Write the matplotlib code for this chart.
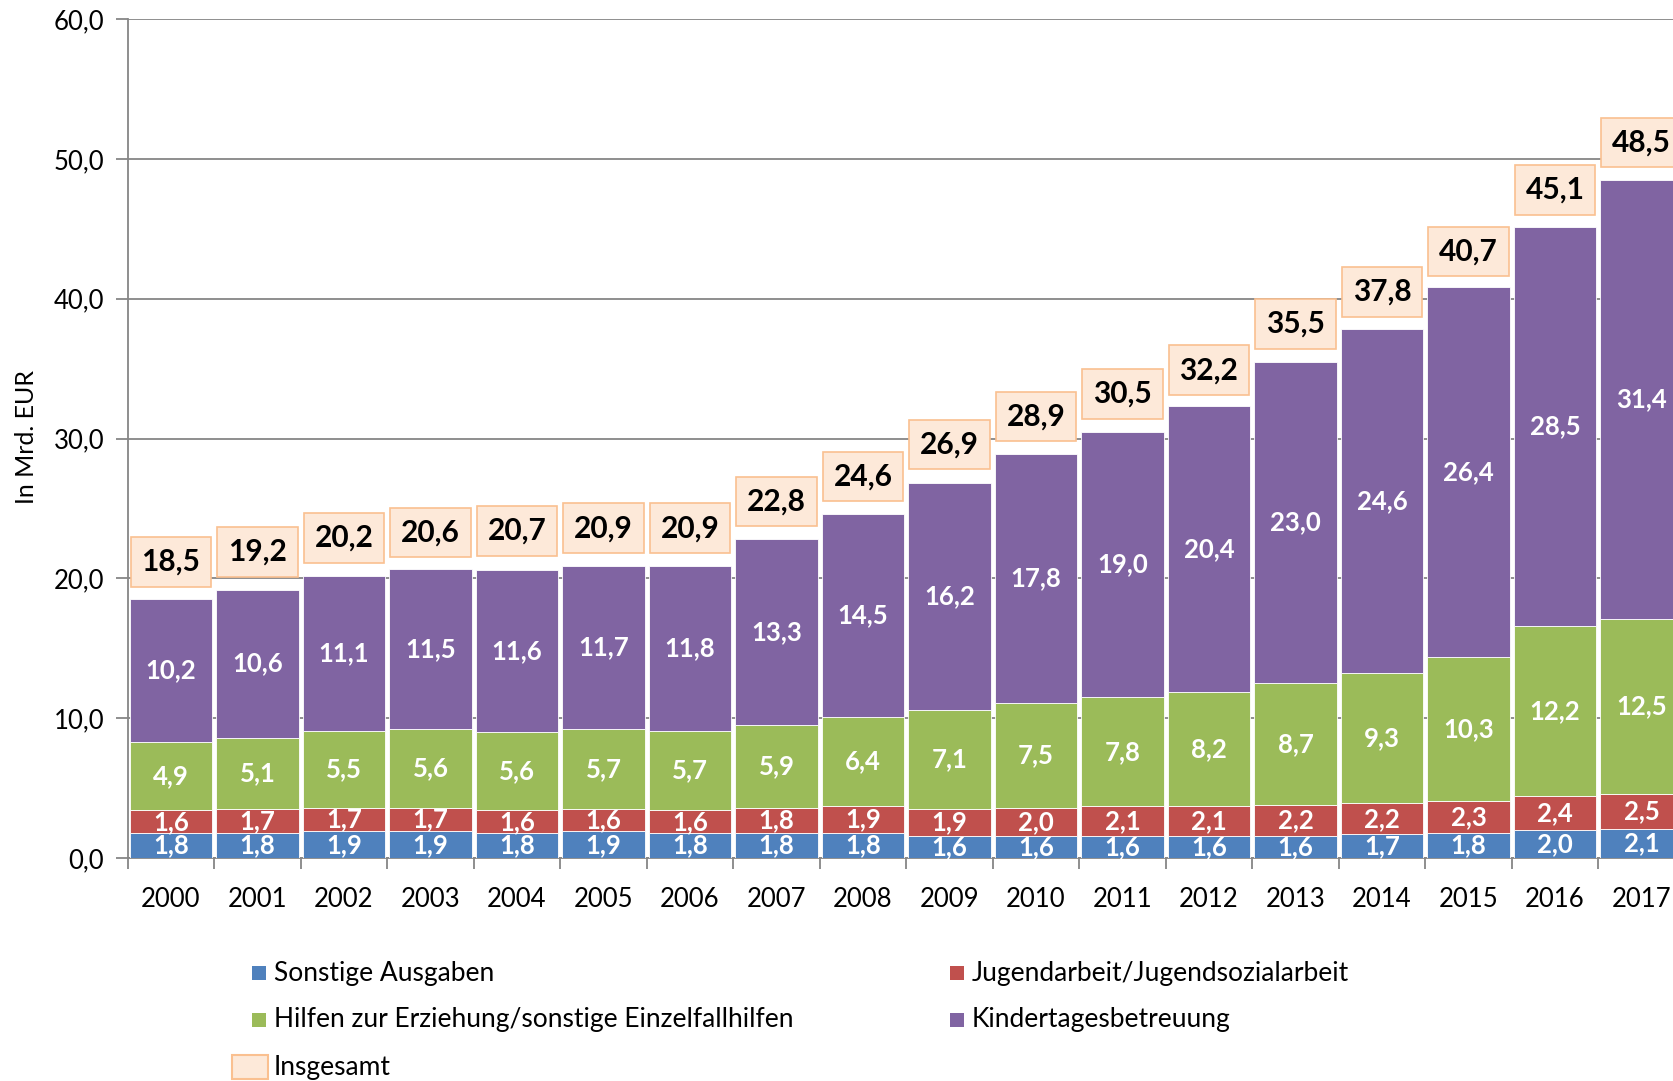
import matplotlib
matplotlib.use("Agg")
import matplotlib.pyplot as plt
from matplotlib.patches import Rectangle
import numpy as np

plt.rcParams['font.family'] = ['Lato', 'DejaVu Sans']

years = ['2000', '2001', '2002', '2003', '2004', '2005', '2006', '2007', '2008',
         '2009', '2010', '2011', '2012', '2013', '2014', '2015', '2016', '2017']
sonstige = [1.8, 1.8, 1.9, 1.9, 1.8, 1.9, 1.8, 1.8, 1.8, 1.6, 1.6, 1.6, 1.6, 1.6, 1.7, 1.8, 2.0, 2.1]
jugend = [1.6, 1.7, 1.7, 1.7, 1.6, 1.6, 1.6, 1.8, 1.9, 1.9, 2.0, 2.1, 2.1, 2.2, 2.2, 2.3, 2.4, 2.5]
hilfen = [4.9, 5.1, 5.5, 5.6, 5.6, 5.7, 5.7, 5.9, 6.4, 7.1, 7.5, 7.8, 8.2, 8.7, 9.3, 10.3, 12.2, 12.5]
kita = [10.2, 10.6, 11.1, 11.5, 11.6, 11.7, 11.8, 13.3, 14.5, 16.2, 17.8, 19.0, 20.4, 23.0, 24.6, 26.4, 28.5, 31.4]
insgesamt = [18.5, 19.2, 20.2, 20.6, 20.7, 20.9, 20.9, 22.8, 24.6, 26.9, 28.9, 30.5, 32.2, 35.5, 37.8, 40.7, 45.1, 48.5]

series_names = ['Sonstige Ausgaben', 'Jugendarbeit/Jugendsozialarbeit',
                'Hilfen zur Erziehung/sonstige Einzelfallhilfen', 'Kindertagesbetreuung']
series = [sonstige, jugend, hilfen, kita]
colors = ['#4F81BD', '#C0504D', '#9BBB59', '#8064A2']
total_name = 'Insgesamt'
total_face = '#FDE9D9'
total_edge = '#FAC090'

W, H = 1673, 1081
fig = plt.figure(figsize=(W / 100, H / 100), dpi=100)
ax_left, ax_right, ax_top, ax_bottom = 127.7, 127.7 + 18 * 86.5, 19, 858
ax = fig.add_axes([ax_left / W, (H - ax_bottom) / H, (ax_right - ax_left) / W, (ax_bottom - ax_top) / H])

def fmt(v):
    return f"{v:.1f}".replace('.', ',')

x = np.arange(len(years))
bottom = np.zeros(len(years))
for vals, col in zip(series, colors):
    vals = np.array(vals)
    ax.bar(x, vals, bottom=bottom, width=0.955, color=col, edgecolor='white', linewidth=0.6, zorder=3)
    for xi, b, v in zip(x, bottom, vals):
        ax.text(xi, b + v / 2, fmt(v), ha='center', va='center', color='white',
                fontsize=18.5, fontweight='bold', zorder=4)
    bottom = bottom + vals

for xi, t in zip(x, insgesamt):
    ax.annotate(fmt(t), xy=(xi, t), xytext=(0, 27), textcoords='offset points',
                ha='center', va='center', fontsize=21.5, fontweight='bold', color='black',
                bbox=dict(boxstyle='square,pad=0.36', fc=total_face, ec=total_edge, lw=1.2),
                zorder=5, annotation_clip=False)

ax.set_xlim(-0.5, len(years) - 0.5)
ax.set_ylim(0, 60)
ax.set_yticks(np.arange(0, 61, 10))
ax.set_yticklabels([fmt(v) for v in np.arange(0, 61, 10)], fontsize=18.5)
ax.set_xticks(x)
ax.set_xticklabels(years, fontsize=18.5)
ax.set_xticks(np.arange(-0.5, len(years), 1.0), minor=True)
ax.tick_params(axis='x', which='major', length=0, pad=21)
ax.tick_params(axis='x', which='minor', length=8, width=1.3, color='#868686', direction='out')
ax.tick_params(axis='y', length=9, width=1.3, color='#868686', pad=8)
ax.grid(axis='y', color='#868686', linewidth=1.3, zorder=0)
for s in ['top', 'right']:
    ax.spines[s].set_visible(False)
for s in ['left', 'bottom']:
    ax.spines[s].set_color('#868686')
    ax.spines[s].set_linewidth(1.3)
ax.set_axisbelow(True)

fig.text(27 / W, 1 - 437 / H, 'In Mrd. EUR', rotation=90, ha='center', va='center', fontsize=18)

# legend (manual)
entries = [(series_names[0], colors[0], 252, 973), (series_names[1], colors[1], 950, 973),
           (series_names[2], colors[2], 252, 1020), (series_names[3], colors[3], 950, 1020)]
for name, col, px, py in entries:
    fig.patches.append(Rectangle(((px) / W, 1 - (py + 7) / H), 14 / W, 14 / H,
                                 transform=fig.transFigure, fc=col, ec='none'))
    fig.text((px + 22) / W, 1 - py / H, name, ha='left', va='center', fontsize=19)
fig.patches.append(Rectangle((232 / W, 1 - (1067 + 12) / H), 36 / W, 24 / H,
                             transform=fig.transFigure, fc=total_face, ec=total_edge, lw=1.5))
fig.text(274 / W, 1 - 1067 / H, total_name, ha='left', va='center', fontsize=19)

fig.savefig('out.png', dpi=100)
